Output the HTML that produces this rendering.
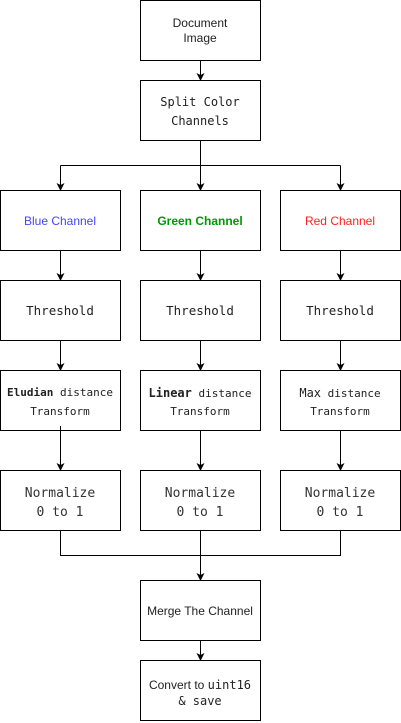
<!DOCTYPE html>
<html><head><meta charset="utf-8"><style>
html,body{margin:0;padding:0;background:#fff;}
svg{display:block;}
.s{font-family:"Liberation Sans",sans-serif;font-size:12px;fill:#222;}
.m{font-family:"DejaVu Sans Mono","Liberation Mono",monospace;font-size:12px;fill:#222;}
</style></head><body>
<svg width="401" height="723" viewBox="0 0 401 723" xmlns="http://www.w3.org/2000/svg">
<defs><marker id="a" markerWidth="8" markerHeight="8" refX="7" refY="4" orient="auto" markerUnits="userSpaceOnUse"><path d="M0,0 L8,4 L0,8 L2,4 Z" fill="#000"/></marker></defs>
<g fill="none" stroke="#000" stroke-width="1">
<rect x="140.5" y="0.5" width="120" height="60"/>
<rect x="140.5" y="80.5" width="120" height="60"/>
<rect x="0.5" y="190.5" width="120" height="60"/>
<rect x="140.5" y="190.5" width="120" height="60"/>
<rect x="280.5" y="190.5" width="120" height="60"/>
<rect x="0.5" y="280.5" width="120" height="60"/>
<rect x="140.5" y="280.5" width="120" height="60"/>
<rect x="280.5" y="280.5" width="120" height="60"/>
<rect x="0.5" y="370.5" width="120" height="60"/>
<rect x="140.5" y="370.5" width="120" height="60"/>
<rect x="280.5" y="370.5" width="120" height="60"/>
<rect x="0.5" y="470.5" width="120" height="60"/>
<rect x="140.5" y="470.5" width="120" height="60"/>
<rect x="280.5" y="470.5" width="120" height="60"/>
<rect x="140.5" y="580.5" width="120" height="60"/>
<rect x="140.5" y="660.5" width="120" height="60"/>
<path d="M200.5 60.5V80" marker-end="url(#a)"/>
<path d="M200.5 140.5V190" marker-end="url(#a)"/>
<path d="M60.5 165.5H340.5"/>
<path d="M60.5 165.5V190" marker-end="url(#a)"/>
<path d="M340.5 165.5V190" marker-end="url(#a)"/>
<path d="M60.5 250.5V280" marker-end="url(#a)"/>
<path d="M200.5 250.5V280" marker-end="url(#a)"/>
<path d="M340.5 250.5V280" marker-end="url(#a)"/>
<path d="M60.5 340.5V370" marker-end="url(#a)"/>
<path d="M200.5 340.5V370" marker-end="url(#a)"/>
<path d="M340.5 340.5V370" marker-end="url(#a)"/>
<path d="M60.5 426V470" marker-end="url(#a)"/>
<path d="M200.5 430.5V470" marker-end="url(#a)"/>
<path d="M340.5 430.5V470" marker-end="url(#a)"/>
<path d="M60.5 530.5V555.5H340.5V530.5"/>
<path d="M200.5 530.5V580" marker-end="url(#a)"/>
<path d="M200.5 640.5V660" marker-end="url(#a)"/>
</g>
<g text-anchor="middle">
<text class="s" x="200" y="27">Document</text>
<text class="s" x="200" y="42">Image</text>
<text class="m" x="200" y="106">Split Color</text>
<text class="m" x="200" y="125">Channels</text>
<text class="s" x="60" y="225" fill="#4444ff" style="fill:#4444ff">Blue Channel</text>
<text class="s" x="200" y="225" style="fill:#009900;font-weight:bold">Green Channel</text>
<text class="s" x="340" y="225" style="fill:#ff2222">Red Channel</text>
<text class="m" x="60" y="315" style="font-size:12.5px">Threshold</text>
<text class="m" x="200" y="315" style="font-size:12.5px">Threshold</text>
<text class="m" x="340" y="315" style="font-size:12.5px">Threshold</text>
<text class="m" x="60" y="396" style="font-size:11px"><tspan style="font-weight:bold">Eludian</tspan> distance</text>
<text class="m" x="60" y="415" style="font-size:11px">Transform</text>
<text class="m" x="200" y="397" style="font-size:11px"><tspan style="font-weight:bold;font-size:12px">Linear</tspan> distance</text>
<text class="m" x="200" y="415" style="font-size:11px">Transform</text>
<text class="m" x="340" y="397" style="font-size:11px"><tspan style="font-size:12px">Max</tspan> distance</text>
<text class="m" x="340" y="415" style="font-size:11px">Transform</text>
<text class="m" x="60" y="497" style="font-size:13px;fill:#333">Normalize</text>
<text class="m" x="60" y="516" style="font-size:13px;fill:#333">0 to 1</text>
<text class="m" x="200" y="497" style="font-size:13px;fill:#333">Normalize</text>
<text class="m" x="200" y="516" style="font-size:13px;fill:#333">0 to 1</text>
<text class="m" x="340" y="497" style="font-size:13px;fill:#333">Normalize</text>
<text class="m" x="340" y="516" style="font-size:13px;fill:#333">0 to 1</text>
<text class="s" x="200" y="615">Merge The Channel</text>
<text class="s" x="200" y="689">Convert to <tspan class="m">uint16</tspan></text>
<text class="m" x="200" y="705">&amp; save</text>
</g>
</svg>
</body></html>
